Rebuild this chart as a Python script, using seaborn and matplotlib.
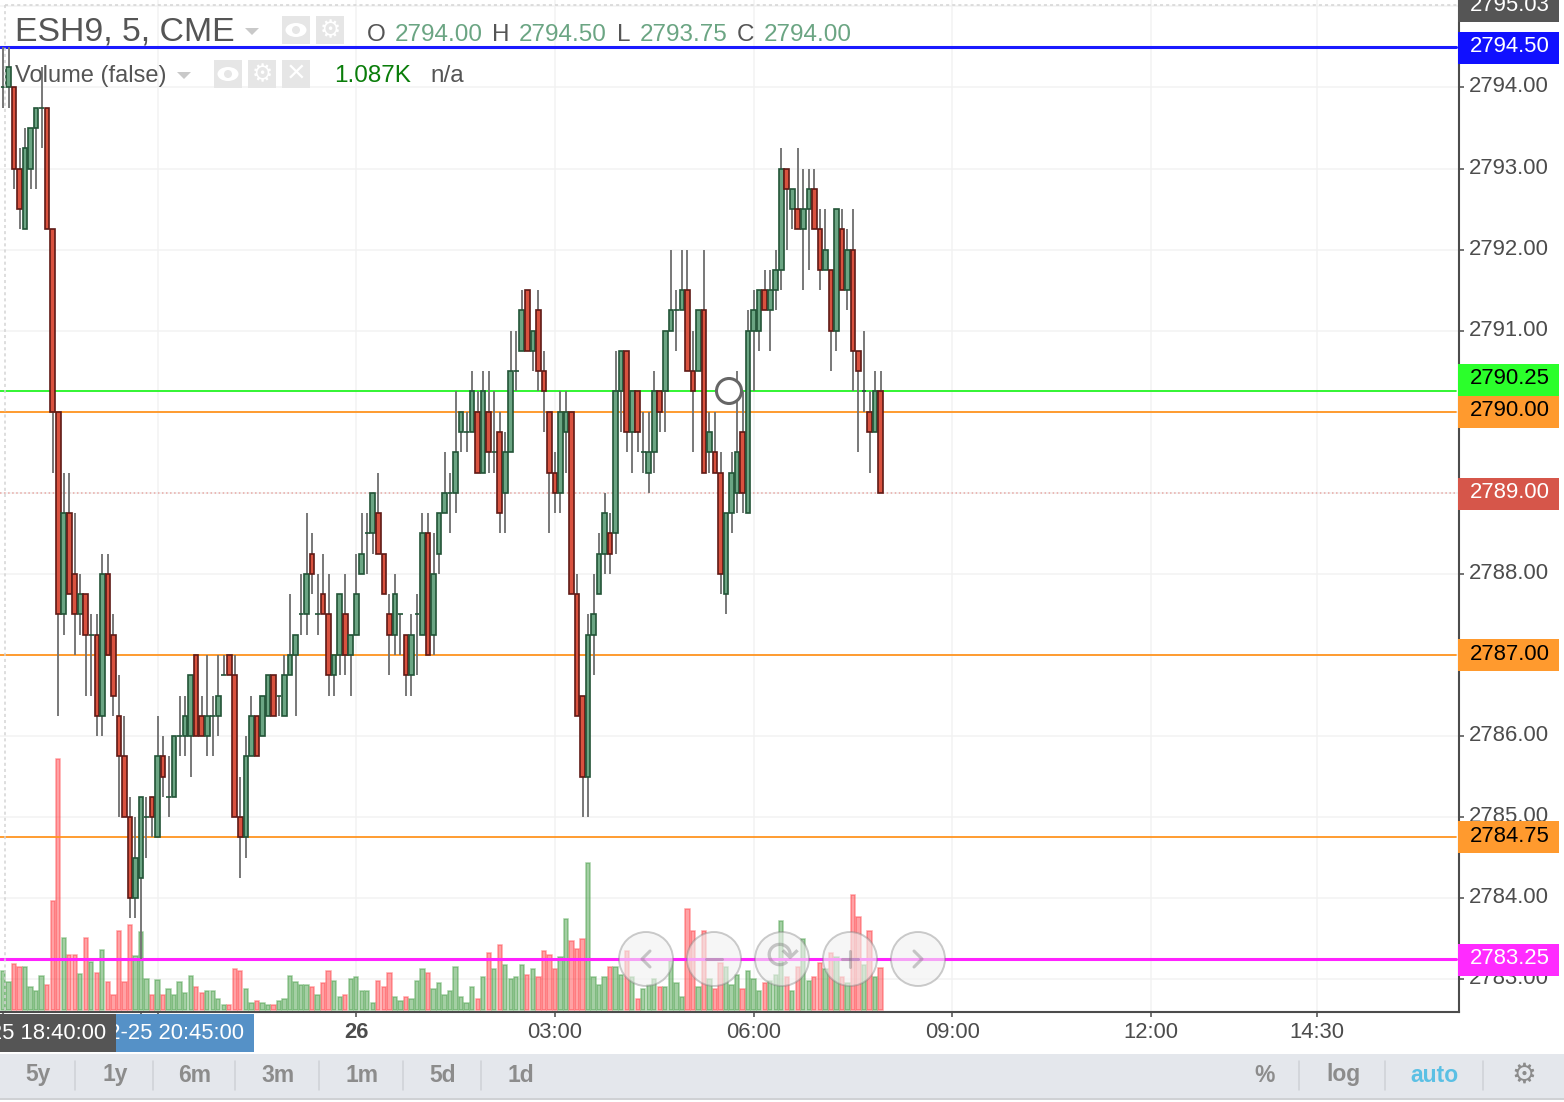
import matplotlib
matplotlib.use("Agg")
import matplotlib.pyplot as plt
import numpy as np
import pandas as pd
import seaborn as sns
from matplotlib.patches import Circle, Ellipse, Polygon, Rectangle
from matplotlib.transforms import ScaledTranslation

# 5 minute bars (quarter point ticks)
opens = [2794, 2794, 2794, 2793, 2792.25, 2793, 2793.5, 2793.75, 2793.75, 2792.25,
         2790, 2787.5, 2788.75, 2788, 2787.5, 2787.75, 2787.25, 2787.25, 2786.25, 2788,
         2787.25, 2786.25, 2785.75, 2785, 2784, 2784.25, 2785, 2785.25, 2784.75, 2785.75,
         2785.25, 2785.25, 2786, 2786, 2786, 2787, 2786.25, 2786, 2786.25, 2786.25,
         2786.75, 2787, 2786.75, 2785, 2784.75, 2785.75, 2786.25, 2786, 2786.25, 2786.75,
         2786.5, 2786.25, 2786.75, 2787, 2787.5, 2787.5, 2788.25, 2787.5, 2787.75, 2787.5,
         2786.75, 2787, 2787.5, 2787, 2787.25, 2788, 2788.5, 2788.5, 2788.75, 2788.25,
         2787.5, 2787.25, 2787.5, 2787.25, 2786.75, 2787.5, 2787.25, 2788.5, 2787.25, 2788.25,
         2788.75, 2789, 2789, 2789.75, 2789.75, 2789.75, 2790, 2789.25, 2790, 2789.5,
         2789.75, 2789, 2789.5, 2790.5, 2790.75, 2791.5, 2790.75, 2791.25, 2790.5, 2790,
         2789.25, 2789, 2789.75, 2790, 2787.75, 2786.5, 2785.5, 2787.25, 2787.75, 2788.25,
         2788.5, 2788.5, 2790.25, 2790.75, 2789.75, 2790.25, 2789.5, 2789.25, 2789.5, 2790.25,
         2790.25, 2791, 2791.25, 2791.25, 2791.5, 2790.5, 2790.5, 2791.25, 2789.5, 2789.5,
         2789.25, 2787.75, 2788.75, 2789, 2789.75, 2788.75, 2791, 2791, 2791.5, 2791.25,
         2791.5, 2791.75, 2793, 2792.5, 2792.5, 2792.25, 2792.5, 2792.75, 2792.25, 2791.75,
         2791.75, 2791, 2792.25, 2791.5, 2792, 2790.75, 2790.25, 2790, 2789.75, 2790.25]
closes = [2794, 2794.25, 2793, 2792.5, 2793.25, 2793.5, 2793.75, 2793.75, 2792.25, 2790,
          2787.5, 2788.75, 2787.75, 2787.5, 2787.75, 2787.25, 2787.25, 2786.25, 2788, 2787,
          2786.5, 2785.75, 2785, 2784, 2784.5, 2785.25, 2785, 2785, 2785.75, 2785.5,
          2785.25, 2786, 2786, 2786.25, 2786.75, 2786, 2786, 2786.25, 2786.25, 2786.5,
          2786.75, 2786.75, 2785, 2784.75, 2785.75, 2786.25, 2785.75, 2786.5, 2786.75, 2786.25,
          2786.5, 2786.75, 2787, 2787.25, 2787.5, 2788, 2788, 2787.5, 2787.5, 2786.75,
          2787, 2787.75, 2787, 2787.25, 2787.75, 2788.25, 2788.5, 2789, 2788.25, 2787.75,
          2787.25, 2787.75, 2787.5, 2786.75, 2787.25, 2787.5, 2788.5, 2787, 2788, 2788.75,
          2789, 2789, 2789.5, 2790, 2789.75, 2790.25, 2789.25, 2790.25, 2789.5, 2789.5,
          2788.75, 2789.5, 2790.5, 2790.5, 2791.25, 2790.75, 2791, 2790.5, 2790.25, 2789.25,
          2789, 2790, 2790, 2787.75, 2786.25, 2785.5, 2787.25, 2787.5, 2788.25, 2788.75,
          2788.25, 2790.25, 2790.75, 2789.75, 2790.25, 2789.75, 2789.5, 2789.5, 2790.25, 2790,
          2791, 2791.25, 2791.25, 2791.5, 2790.5, 2790.25, 2791.25, 2789.25, 2789.75, 2789.25,
          2788, 2788.75, 2789.25, 2789.5, 2789, 2791, 2791.25, 2791.5, 2791.25, 2791.5,
          2791.75, 2793, 2792.75, 2792.75, 2792.25, 2792.5, 2792.75, 2792.25, 2791.75, 2792,
          2791, 2792.5, 2791.5, 2792, 2790.75, 2790.5, 2790.25, 2789.75, 2790.25, 2789]
highs = [2794.5, 2794.5, 2794, 2793.25, 2793.5, 2793.5, 2793.75, 2794.25, 2793.75, 2792.25,
         2790, 2789.25, 2789.25, 2788.75, 2788, 2787.75, 2787.5, 2787.5, 2788.25, 2788.25,
         2787.5, 2786.75, 2786.25, 2785.25, 2785, 2785.25, 2785.25, 2785.25, 2786.25, 2786,
         2785.75, 2786, 2786.5, 2786.5, 2786.75, 2787, 2786.5, 2787, 2786.5, 2787,
         2787, 2787, 2787, 2785.5, 2786, 2786.5, 2786.25, 2786.5, 2786.75, 2786.75,
         2786.5, 2787, 2787.75, 2787.25, 2788, 2788.75, 2788.5, 2788, 2788.25, 2788,
         2787, 2787.75, 2788, 2787.25, 2788.25, 2788.75, 2788.75, 2789, 2789.25, 2788.25,
         2787.75, 2788, 2787.5, 2787.25, 2787.5, 2787.75, 2788.75, 2788.75, 2788.5, 2788.75,
         2789.5, 2789.25, 2790.25, 2790, 2790, 2790.5, 2790.25, 2790.5, 2790.5, 2790.25,
         2790, 2789.75, 2791, 2791, 2791.5, 2791.5, 2791, 2791.5, 2790.75, 2790,
         2789.5, 2790.25, 2790.25, 2790, 2788, 2786.5, 2787.5, 2788, 2788.5, 2789,
         2788.75, 2790.75, 2790.75, 2790.75, 2790.25, 2790.25, 2790, 2790, 2790.5, 2790.25,
         2791, 2792, 2791.5, 2792, 2792, 2791, 2791.25, 2792, 2790, 2790,
         2789.5, 2787.75, 2789.5, 2790.5, 2790.25, 2791.25, 2791.5, 2791.5, 2791.75, 2791.75,
         2792, 2793.25, 2793, 2792.75, 2793.25, 2793, 2793, 2793, 2792.5, 2792.5,
         2791.75, 2792.5, 2792.5, 2792.25, 2792.5, 2790.75, 2791, 2790.25, 2790.5, 2790.5]
lows = [2793.75, 2793.75, 2792.75, 2792.25, 2792.25, 2792.75, 2792.75, 2793.25, 2792.25, 2789.25,
        2786.25, 2787.25, 2787.75, 2787, 2787.25, 2786.5, 2786.5, 2786, 2786, 2787,
        2786.25, 2785, 2785, 2783.75, 2783.75, 2783.25, 2784.5, 2784.75, 2784.75, 2785.25,
        2785, 2785.25, 2785.75, 2785.75, 2785.5, 2786, 2786, 2785.75, 2785.75, 2786,
        2786.75, 2786.75, 2785, 2784.25, 2784.5, 2785.75, 2785.75, 2786, 2786.25, 2786.25,
        2786.25, 2786.25, 2786.75, 2786.25, 2787.25, 2787.25, 2787.75, 2787.25, 2787.5, 2786.5,
        2786.5, 2786.75, 2786.75, 2786.5, 2787.25, 2788, 2788, 2788.25, 2788.25, 2787.75,
        2786.75, 2787, 2787, 2786.5, 2786.5, 2786.75, 2787.25, 2787, 2787, 2788,
        2788.75, 2788.5, 2788.75, 2789.5, 2789.5, 2789.75, 2789.25, 2789.25, 2789.25, 2789.25,
        2788.5, 2788.5, 2789.5, 2790.25, 2790.75, 2790.75, 2790.5, 2790.25, 2789.75, 2788.5,
        2788.75, 2788.75, 2789.25, 2787.75, 2786.25, 2785, 2785, 2786.75, 2787.75, 2788,
        2788, 2788.25, 2789.75, 2789.5, 2789.25, 2789.5, 2789.25, 2789, 2789.25, 2789.75,
        2789.75, 2791, 2790.75, 2791.25, 2790.5, 2789.5, 2790.5, 2789.25, 2789.25, 2789.25,
        2787.75, 2787.5, 2788.5, 2788.75, 2788.75, 2788.75, 2790.25, 2790.75, 2791.25, 2790.75,
        2791.25, 2791.5, 2792, 2792.25, 2792.25, 2791.5, 2791.75, 2792.25, 2791.5, 2791.75,
        2790.5, 2790.75, 2791.5, 2791.25, 2790.25, 2789.5, 2790, 2789.25, 2789.75, 2789]
volumes = [1014, 728, 1196, 1118, 1118, 598, 494, 884, 650, 2834, 6526, 1872, 1430, 1430, 936, 1872,
           1248, 962, 1560, 728, 390, 2054, 728, 2210, 1404, 2028, 806, 390, 780, 390, 546, 390,
           728, 442, 884, 598, 442, 494, 494, 286, 130, 130, 1066, 1014, 546, 182, 234, 182,
           130, 130, 234, 286, 884, 728, 650, 650, 598, 390, 702, 1014, 754, 338, 390, 806,
           858, 494, 494, 182, 754, 598, 962, 338, 234, 338, 286, 754, 1066, 962, 546, 702,
           390, 494, 1118, 338, 182, 598, 286, 858, 1482, 1066, 1690, 1170, 806, 858, 1170, 910,
           1066, 858, 1534, 1430, 1066, 1378, 2366, 1794, 1586, 1846, 3822, 858, 650, 858, 1118, 1118,
           910, 1534, 858, 286, 546, 650, 806, 598, 598, 1274, 702, 338, 2626, 2054, 598, 2054,
           806, 546, 1222, 1118, 650, 910, 546, 1014, 806, 494, 702, 754, 910, 2314, 858, 494,
           1118, 1846, 754, 858, 1222, 1066, 1482, 1378, 858, 702, 2990, 2418, 1170, 2054, 858, 1087]

price_ticks = [2783, 2784, 2785, 2786, 2787, 2788, 2789, 2790, 2791, 2792, 2793, 2794, 2795]
time_ticks = [28, 64, 100, 136, 172, 208, 238]
time_labels = ["21:00", "26", "03:00", "06:00", "09:00", "12:00", "14:30"]
cursor_bars = [0, 25]
cursor_labels = ["02-25 18:40:00", "02-25 20:45:00"]

period_buttons = ["5y", "1y", "6m", "3m", "1m", "5d", "1d"]
ohlc_names = ["O", "H", "L", "C"]
ohlc_values = ["2794.00", "2794.50", "2793.75", "2794.00"]
volume_last = "1.087K"

# price lines: level, line colour, tag colour, tag text colour, width, style
level_lines = [
    (2794.50, "#1a1aff", "#1010ff", "white", 2.2, "-"),
    (2790.25, "#22f522", "#2bff2b", "black", 1.3, "-"),
    (2790.00, "#ff9420", "#ff9a2e", "black", 1.3, "-"),
    (2789.00, "#e8a8a4", "#d6564a", "white", 1.1, ":"),
    (2787.00, "#ff9420", "#ff9a2e", "black", 1.3, "-"),
    (2784.75, "#ff9420", "#ff9a2e", "black", 1.3, "-"),
    (2783.25, "#ff22ff", "#ff2bff", "white", 2.2, "-"),
]
tag_centers = [47.5, 380, 412, 494, 655, 837, 960]

sns.set_theme(style="white")
plt.rcParams["font.family"] = ["Liberation Sans", "DejaVu Sans"]

GREY = "#4c4c4c"
GREEN_BODY, GREEN_EDGE = "#6ba583", "#225437"
RED_BODY, RED_EDGE = "#d9523f", "#5f1a16"

df = pd.DataFrame({"bar": range(len(opens)), "open": opens, "high": highs, "low": lows,
                   "close": closes, "volume": volumes})
df["up"] = df["close"] >= df["open"]

fig = plt.figure(figsize=(15.64, 11.02), dpi=100, facecolor="white")
rect = [0, 1 - 1012 / 1102, 1459 / 1564, 1012 / 1102]
xlim = (-0.543, 263.8)
ylim = (2782.596, 2795.079)

# bottom layer: grid, ticks and frame
ax = fig.add_axes(rect, zorder=0)
ax.set_xlim(xlim)
ax.set_ylim(ylim)
ax.yaxis.tick_right()
ax.set_yticks(price_ticks)
ax.set_yticklabels([f"{p:.2f}" for p in price_ticks])
ax.set_xticks(time_ticks)
ax.set_xticklabels(time_labels)
ax.set_xticks(cursor_bars, minor=True)
ax.grid(True, color="#f2f2f2", linewidth=1.1)
ax.set_axisbelow(True)
ax.tick_params(axis="y", right=True, length=3.6, width=1.1, color=GREY, labelcolor=GREY,
               labelsize=15.9, pad=3.8)
ax.tick_params(axis="x", which="both", bottom=True, length=3.6, width=1.1, color=GREY,
               labelcolor=GREY, labelsize=15.8, pad=3.4)
ax.get_xticklabels()[1].set_fontweight("bold")
# the widget prints its price labels a little above the tick
lift = ScaledTranslation(0, 3 / 100, fig.dpi_scale_trans)
for tick_label in ax.get_yticklabels():
    tick_label.set_transform(tick_label.get_transform() + lift)
for side in ["left", "top"]:
    ax.spines[side].set_visible(False)
for side in ["right", "bottom"]:
    ax.spines[side].set_color(GREY)
    ax.spines[side].set_linewidth(1.5)

# volume pane sits on its own scale
ax_vol = fig.add_axes(rect, zorder=1)
ax_vol.patch.set_visible(False)
sns.barplot(data=df, x="bar", y="volume", hue="up", palette={True: "#3f9a3f", False: "#ff3a40"},
            native_scale=True, dodge=False, legend=False, width=0.78, saturation=1, alpha=0.47,
            linewidth=1.1, ax=ax_vol)
for bar in ax_vol.patches:
    bar.set_edgecolor(bar.get_facecolor())
ax_vol.set_xlim(xlim)
ax_vol.set_ylim(-65, 26247)
ax_vol.axis("off")

# candles and price lines
ax_top = fig.add_axes(rect, zorder=2)
ax_top.patch.set_visible(False)
ax_top.set_xlim(xlim)
ax_top.set_ylim(ylim)
ax_top.axis("off")
for level, color, _, _, width, style in level_lines:
    ax_top.axhline(level, xmax=0.998, color=color, linewidth=width, linestyle=style, zorder=1)
ax_top.vlines(df["bar"], df["low"], df["high"], color="#737373", linewidth=1.35, zorder=2)
ax_top.bar(df["bar"], df["close"] - df["open"], bottom=df["open"], width=0.84,
           color=[GREEN_BODY if u else RED_BODY for u in df["up"]],
           edgecolor=[GREEN_EDGE if u else RED_EDGE for u in df["up"]],
           linewidth=1.2, zorder=3)

# everything the chart widget draws on top, in screen pixels
ui = fig.add_axes([0, 0, 1, 1], zorder=3)
ui.patch.set_visible(False)
ui.set_xlim(0, 1564)
ui.set_ylim(1102, 0)
ui.axis("off")


def label(x, y, text, size=15.9, color=GREY, ha="left", **kw):
    return ui.text(x, y + 2, text, fontsize=size, color=color, ha=ha, va="center", **kw)


def box(x, y, w, h, color, **kw):
    patch = Rectangle((x, y), w, h, facecolor=color, edgecolor="none", **kw)
    ui.add_patch(patch)
    return patch


# dotted cursor frame
ui.plot([5, 5], [5, 1012], color="#d4d4d4", linewidth=1.1, linestyle=(0, (2, 2)))
ui.plot([5, 1459], [5, 5], color="#d4d4d4", linewidth=1.1, linestyle=(0, (2, 2)))

# header
label(15, 30, "ESH9, 5, CME", size=24.3, color="#555555")
label(15, 74, "Volume (false)", size=17, color="#555555")
for tri_x, tri_y in [(245, 28), (177, 72)]:
    ui.add_patch(Polygon([(tri_x, tri_y), (tri_x + 14, tri_y), (tri_x + 7, tri_y + 7)],
                         facecolor="#c9c9c9", edgecolor="none"))
for bx, by, kind in [(282, 16, "eye"), (316, 16, "gear"), (214, 60, "eye"), (248, 60, "gear"),
                     (282, 60, "x")]:
    box(bx, by, 28, 28, "#e6e6e6")
    if kind == "eye":
        ui.add_patch(Ellipse((bx + 14, by + 14), 21, 14, facecolor="white", edgecolor="none"))
        ui.add_patch(Circle((bx + 14, by + 14), 4, facecolor="#e6e6e6", edgecolor="none"))
    elif kind == "gear":
        ui.text(bx + 14, by + 14, "\u2699", fontsize=17, color="white", ha="center", va="center",
                family="DejaVu Sans")
    else:
        ui.text(bx + 14, by + 14, "\u00d7", fontsize=23, color="white", ha="center", va="center")
for name, name_x, value, value_x in zip(ohlc_names, [367, 492, 617, 737], ohlc_values,
                                        [395, 519, 640, 764]):
    label(name_x, 33, name, size=17.5, color="#555555")
    label(value_x, 33, value, size=17.5, color="#6ba583")
label(334, 74, volume_last, size=17.5, color="#0a7d0a")
label(430, 74, "n/a", size=17.5, color="#555555")

# price tags
box(1458, 0, 101, 22, "#555555")
label(1470, 3.5, "2795.03", color="white")
for (level, _, tag, text_color, _, _), center in zip(level_lines, tag_centers):
    box(1458, center - 16, 101, 32, tag)
    label(1470, center - 3, f"{level:.2f}", color=text_color)

# cursor circle
ui.add_patch(Circle((729, 391), 12.5, facecolor="white", edgecolor="#666666", linewidth=2.2))

# zoom and scroll buttons
for cx in [646, 714, 782, 850, 918]:
    ui.add_patch(Circle((cx, 959), 27, facecolor=(0.95, 0.95, 0.95, 0.62),
                        edgecolor=(0.5, 0.5, 0.5, 0.4), linewidth=1.4))
icon = (0.45, 0.45, 0.45, 0.38)
ui.plot([650, 642, 650], [951, 959, 967], color=icon, linewidth=2.2)
ui.plot([914, 922, 914], [951, 959, 967], color=icon, linewidth=2.2)
ui.plot([706, 722], [959, 959], color=icon, linewidth=2.2)
ui.plot([842, 858], [959, 959], color=icon, linewidth=2.2)
ui.plot([850, 850], [951, 967], color=icon, linewidth=2.2)
ui.text(782, 958, "\u27f3", fontsize=29, color=icon, ha="center", va="center", family="DejaVu Sans")

# cursor time tags
box(0, 1014, 116, 38, "#555555")
blue_tag = box(116, 1014, 138, 38, "#5591c7")
label(106, 1031.5, cursor_labels[0], size=15.8, color="white", ha="right")
blue_text = label(244, 1031.5, cursor_labels[1], size=15.8, color="white", ha="right")
blue_text.set_clip_path(blue_tag)
blue_text.set_clip_on(True)

# bottom toolbar
box(0, 1054, 1564, 44, "#e4e7ec")
box(0, 1098, 1564, 2, "#cfd1d4")
for text, cx in zip(period_buttons, [38, 115, 195, 278, 362, 443, 521]):
    label(cx, 1073, text, size=16.5, color="#8c8c8c", ha="center", fontweight="bold")
for sx in [75, 153, 235, 319, 403, 481, 1299, 1385, 1483]:
    ui.plot([sx, sx], [1061, 1090], color="#cfd1d6", linewidth=1.1)
label(1265, 1073, "%", size=16.5, color="#8c8c8c", ha="center", fontweight="bold")
label(1343, 1073, "log", size=16.5, color="#8c8c8c", ha="center", fontweight="bold")
label(1434, 1073, "auto", size=16.5, color="#5bc0e4", ha="center", fontweight="bold")
ui.text(1524, 1075, "\u2699", fontsize=20, color="#8c8c8c", ha="center", va="center",
        family="DejaVu Sans")

fig.savefig("out.png", dpi=100, facecolor="white")
